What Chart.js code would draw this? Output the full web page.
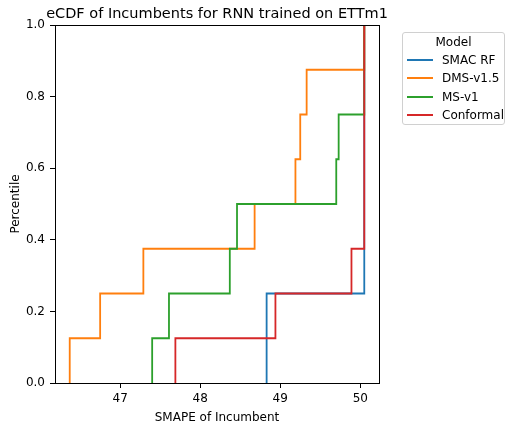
<!DOCTYPE html>
<html>
<head>
<meta charset="utf-8">
<script src="https://cdn.jsdelivr.net/npm/chart.js@4/dist/chart.umd.min.js"></script>
<style>
  html, body { margin: 0; padding: 0; background: #fff; }
  #wrap { position: relative; width: 508px; height: 425px; font-family: "DejaVu Sans", sans-serif; }
  #chart { position: absolute; left: 0; top: 0; }
  #legend { position: absolute; left: 402px; top: 32px; width: 103px; height: 93px;
            border: 1px solid #d0d0d0; border-radius: 3px; background: rgba(255,255,255,0.8);
            box-sizing: border-box; font-size: 12px; color: #000; }
  #legend .ttl { position: absolute; left: 0; width: 100%; top: 2px; line-height: 14px; text-align: center; }
  #legend .row { position: absolute; left: 0; width: 100%; height: 14px; }
  #legend .swatch { position: absolute; left: 4px; top: 6px; width: 26px; height: 0; border-top: 2px solid; }
  #legend .lbl { position: absolute; left: 39px; top: 0; line-height: 14px; white-space: nowrap; }
</style>
</head>
<body>
<div id="wrap">
  <canvas id="chart" width="508" height="425"></canvas>
  <div id="legend"></div>
</div>
<script>
// Models compared and their incumbent SMAPE values (8 runs each)
const models = ['SMAC RF', 'DMS-v1.5', 'MS-v1', 'Conformal'];
const smacRf    = [48.83, 48.83, 50.05, 50.05, 50.05, 50.05, 50.05, 50.05];
const dmsV15    = [46.37, 46.75, 47.29, 48.68, 49.19, 49.25, 49.33, 50.05];
const msV1      = [47.40, 47.61, 48.37, 48.46, 49.70, 49.73, 50.05, 50.05];
const conformal = [47.69, 48.94, 49.89, 50.05, 50.05, 50.05, 50.05, 50.05];
const seriesValues = [smacRf, dmsV15, msV1, conformal];
const colors = ['#1f77b4', '#ff7f0e', '#2ca02c', '#d62728'];

const xTicks = [47, 48, 49, 50];
const yTicks = [0.0, 0.2, 0.4, 0.6, 0.8, 1.0];

const chartTitle = 'eCDF of Incumbents for RNN trained on ETTm1';
const xLabel = 'SMAPE of Incumbent';
const yLabel = 'Percentile';
const legendTitle = 'Model';

// Empirical CDF as step points: start at (first, 0), then (x_i, i/n)
function ecdfPoints(values) {
  const s = values.slice().sort((a, b) => a - b);
  const n = s.length;
  const pts = [{ x: s[0], y: 0 }];
  s.forEach((v, i) => pts.push({ x: v, y: (i + 1) / n }));
  return pts;
}

const allValues = seriesValues.flat();
const dMin = Math.min(...allValues), dMax = Math.max(...allValues);
const margin = 0.05 * (dMax - dMin);

const FONT = 'DejaVu Sans';
Chart.defaults.font.family = FONT;
Chart.defaults.font.size = 12;
Chart.defaults.color = '#000';

// Frame around the plotting area plus the centred plot title
const framePlugin = {
  id: 'frame',
  afterDraw(chart) {
    const { ctx, chartArea: a } = chart;
    ctx.save();
    ctx.strokeStyle = '#000';
    ctx.lineWidth = 1;
    ctx.strokeRect(Math.round(a.left) + 0.5, Math.round(a.top) + 0.5,
                   Math.round(a.right - a.left), Math.round(a.bottom - a.top));
    ctx.font = '14.5px "' + FONT + '"';
    ctx.fillStyle = '#000';
    ctx.textAlign = 'center';
    ctx.textBaseline = 'alphabetic';
    ctx.fillText(chartTitle, (a.left + a.right) / 2, 18);
    ctx.restore();
  }
};

new Chart(document.getElementById('chart'), {
  type: 'line',
  data: {
    datasets: models.map((m, i) => ({
      label: m,
      data: ecdfPoints(seriesValues[i]),
      borderColor: colors[i],
      backgroundColor: colors[i],
      borderWidth: 1.8,
      pointRadius: 0,
      stepped: 'before',
      fill: false,
      order: models.length - 1 - i
    }))
  },
  options: {
    responsive: false,
    animation: false,
    devicePixelRatio: 1,
    layout: { padding: { left: 0, right: 129, top: 25, bottom: 0 } },
    plugins: { legend: { display: false }, tooltip: { enabled: false }, title: { display: false } },
    scales: {
      x: {
        type: 'linear',
        min: dMin - margin,
        max: dMax + margin,
        afterBuildTicks: (s) => { s.ticks = xTicks.map(v => ({ value: v })); },
        afterFit: (s) => { s.height = 42; },
        ticks: { padding: 4, font: { size: 12 }, color: '#000', callback: (v) => String(v) },
        grid: { drawOnChartArea: false, drawTicks: true, tickLength: 5, tickColor: '#000', tickWidth: 1 },
        border: { display: true, color: '#000', width: 1 },
        title: { display: true, text: xLabel, font: { size: 12 }, color: '#000', padding: { top: 5, bottom: 0 } }
      },
      y: {
        type: 'linear',
        min: 0,
        max: 1,
        afterBuildTicks: (s) => { s.ticks = yTicks.map(v => ({ value: v })); },
        afterFit: (s) => { s.width = 55; },
        ticks: { padding: 5, font: { size: 12 }, color: '#000', callback: (v) => v.toFixed(1) },
        grid: { drawOnChartArea: false, drawTicks: true, tickLength: 5, tickColor: '#000', tickWidth: 1 },
        border: { display: true, color: '#000', width: 1 },
        title: { display: true, text: yLabel, font: { size: 12 }, color: '#000', padding: { top: 9, bottom: 0 } }
      }
    }
  },
  plugins: [framePlugin]
});

// Legend box with title and line handles
const legend = document.getElementById('legend');
const ttl = document.createElement('div');
ttl.className = 'ttl';
ttl.textContent = legendTitle;
legend.appendChild(ttl);
models.forEach((m, i) => {
  const row = document.createElement('div');
  row.className = 'row';
  row.style.top = (20 + i * 18.3) + 'px';
  const sw = document.createElement('span');
  sw.className = 'swatch';
  sw.style.borderTopColor = colors[i];
  const lb = document.createElement('span');
  lb.className = 'lbl';
  lb.textContent = m;
  row.appendChild(sw);
  row.appendChild(lb);
  legend.appendChild(row);
});
</script>
</body>
</html>
